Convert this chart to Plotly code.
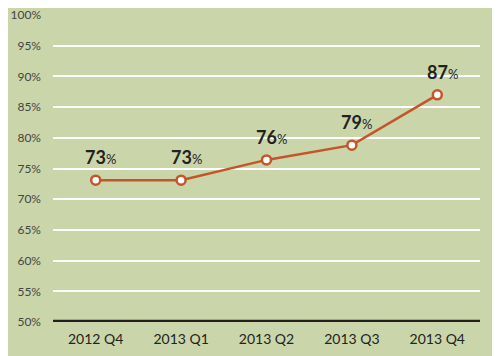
import plotly.graph_objects as go

categories = ["2012 Q4", "2013 Q1", "2013 Q2", "2013 Q3", "2013 Q4"]
values = [73.1, 73.1, 76.4, 78.8, 87.0]
labels = ["73", "73", "76", "79", "87"]
tick_vals = [50, 55, 60, 65, 70, 75, 80, 85, 90, 95, 100]
tick_text = [f"{v}%" for v in tick_vals]

bg = "#cad6a9"
line_color = "#c4552b"

fig = go.Figure()
fig.add_trace(go.Scatter(
    x=categories, y=values, mode="lines+markers",
    line=dict(color=line_color, width=2.5),
    marker=dict(size=9, color="white", line=dict(color=line_color, width=2.5)),
    hoverinfo="skip", showlegend=False,
))

for c, v, l in zip(categories, values, labels):
    fig.add_annotation(
        x=c, y=v, xref="x", yref="y",
        text=f"<b>{l}</b><span style='font-size:13px'>%</span>",
        showarrow=False, yshift=23, xshift=5,
        font=dict(family="Lato, sans-serif", size=18, color="#222222"),
    )

fig.add_shape(type="line", xref="paper", yref="y", x0=0, x1=1, y0=50, y1=50,
              line=dict(color="#231f20", width=4.5))

fig.update_layout(
    width=500, height=356,
    paper_bgcolor=bg, plot_bgcolor=bg,
    margin=dict(l=45, r=28, t=7, b=42),
    font=dict(family="Lato, sans-serif", color="#333333", size=11),
    xaxis=dict(
        type="category", range=[-0.5, 4.5], showgrid=False, zeroline=False,
        showline=False, ticks="", automargin=False, ticklabelstandoff=7,
        tickfont=dict(size=14, color="#222222"),
    ),
    yaxis=dict(
        range=[50, 100], tickvals=tick_vals, ticktext=tick_text,
        showgrid=True, gridcolor="white", gridwidth=2, zeroline=False,
        showline=False, ticks="", ticklabelstandoff=11, automargin=False,
        ticklabeloverflow="allow",
        tickfont=dict(size=12, color="#444444"),
    ),
)

fig.write_html("out.html")
